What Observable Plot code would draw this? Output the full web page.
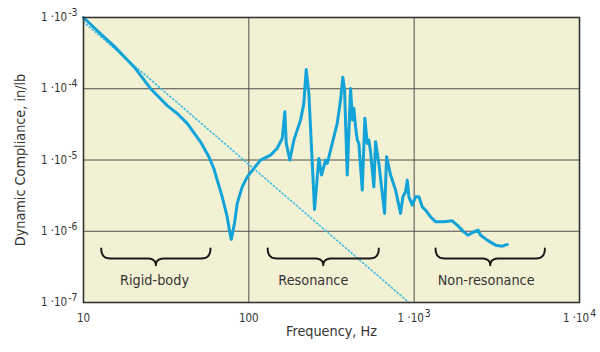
<!DOCTYPE html>
<html><head><meta charset="utf-8">
<script src="https://cdn.jsdelivr.net/npm/d3@7"></script>
<script src="https://cdn.jsdelivr.net/npm/@observablehq/plot@0.6"></script>
<style>
html,body{margin:0;padding:0;background:#fff;}
#chart svg{display:block;}
</style></head><body><div id="chart"></div>
<script>
// ---- data ----
const freqHz = [10, 12.5, 15.25, 20.5, 25.4, 32.1, 36.9, 42.4, 51.0, 57.3, 61.4, 64.4, 69.0, 74.0, 76.5, 78.3, 81.9, 85.1, 91.2, 97.8, 107.2, 117.7,
  135.3, 148.5, 159.3, 165.1, 168.4, 177, 187.2, 205.5, 215.1, 222.4, 230.7, 249.7, 265.2, 275.3, 291.1, 298.1,
  342.5, 358.6, 370.3, 379.3, 393.8, 412.3, 424, 431.8, 442.1, 452.7, 462.9, 485.3, 503.2, 520.4, 532, 544.8,
  570.4, 584.1, 611.5, 662.2, 680.8, 719.8, 771.9, 827.5, 854.4, 887.2, 908.4, 929, 974, 1020, 1068, 1119,
  1172, 1257, 1347, 1512, 1700, 1822, 1998, 2113, 2297, 2429, 2522, 2768, 3108, 3412, 3658];
const compliance = [1.0e-3, 6.1e-4, 4.0e-4, 1.95e-4, 1.01e-4, 5.8e-5, 4.5e-5, 3.27e-5, 1.8e-5, 1.11e-5, 7.6e-6, 5.22e-6, 3.04e-6, 1.59e-6, 1.0e-6, 7.7e-7, 1.29e-6, 2.46e-6, 4.2e-6, 5.8e-6, 7.6e-6, 9.97e-6,
  1.17e-5, 1.46e-5, 2.01e-5, 4.75e-5, 1.71e-5, 1.0e-5, 1.9e-5, 3.63e-5, 6.24e-5, 1.87e-4, 8.6e-5, 2.02e-6, 1.05e-5, 6.14e-6, 9.97e-6, 8.96e-6,
  3.27e-5, 6.94e-5, 1.45e-4, 9.6e-5, 6.14e-6, 1.01e-4, 3.63e-5, 5.31e-5, 2.93e-5, 1.9e-5, 1.71e-5, 3.78e-6, 3.84e-5, 1.71e-5, 1.9e-5, 1.3e-5,
  4.2e-6, 1.8e-5, 8.96e-6, 1.78e-6, 1.11e-5, 6.14e-6, 3.78e-6, 1.78e-6, 3.04e-6, 3.58e-6, 5.22e-6, 3.04e-6, 2.33e-6, 3.04e-6, 3.04e-6, 2.2e-6,
  1.98e-6, 1.59e-6, 1.36e-6, 1.36e-6, 1.40e-6, 1.22e-6, 9.8e-7, 8.8e-7, 9.8e-7, 1.04e-6, 8.8e-7, 7.5e-7, 6.38e-7, 6.18e-7, 6.53e-7];
const massLineHz = [10, 930];
const massLineComp = [8.7e-4, 1e-7];
const xTicks = [10, 100, 1000, 10000];
const xTickLabels = ["10", "100", "1 ·10^3", "1 ·10^4"];
const yTicks = [1e-7, 1e-6, 1e-5, 1e-4, 1e-3];
const yTickLabels = ["1 ·10^-7", "1 ·10^-6", "1 ·10^-5", "1 ·10^-4", "1 ·10^-3"];
const gridX = [100, 1000];
const gridY = [1e-6, 1e-5, 1e-4];
const regionLabels = ["Rigid-body", "Resonance", "Non-resonance"];
const regionFromHz = [12.8, 130, 1347];
const regionToHz = [58.6, 611, 6176];
const regionLabelHz = [26.9, 245.6, 2723];

// ---- layout ----
const W = 600, H = 352, ML = 83, MR = 21, MT = 17, MB = 50;
const FONT = '"Liberation Sans Narrow", "Arial Narrow", "DejaVu Sans Condensed", "Roboto Condensed", sans-serif';
const braceTop = 5.73e-7, braceBar = 4.15e-7, braceTip = 3.34e-7, labelLevel = 2.06e-7;
const pxPerDecX = (W - ML - MR) / 3;
const curl = 9 / pxPerDecX;

const curve = freqHz.map((f, i) => ({f, c: compliance[i]}));
const massLine = massLineHz.map((f, i) => ({f, c: massLineComp[i]}));

function quad(p0, p1, p2, n) {
  const out = [];
  for (let i = 0; i <= n; i++) {
    const t = i / n, a = (1 - t) * (1 - t), b = 2 * (1 - t) * t, c = t * t;
    out.push([a * p0[0] + b * p1[0] + c * p2[0], a * p0[1] + b * p1[1] + c * p2[1]]);
  }
  return out;
}
const braces = [];
regionLabels.forEach((name, i) => {
  const L = Math.log10(regionFromHz[i]), R = Math.log10(regionToHz[i]), C = (L + R) / 2;
  const T = Math.log10(braceTop), B = Math.log10(braceBar), P = Math.log10(braceTip);
  const pts = [
    ...quad([L, T], [L, B], [L + curl, B], 10),
    ...quad([C - curl, B], [C, B], [C, P], 10),
    ...quad([C, P], [C, B], [C + curl, B], 10),
    ...quad([R - curl, B], [R, B], [R, T], 10)
  ];
  pts.forEach(p => braces.push({name, f: 10 ** p[0], c: 10 ** p[1]}));
});
const regionText = regionLabels.map((name, i) => ({name, f: regionLabelHz[i]}));

const chart = Plot.plot({
  width: W, height: H,
  marginLeft: ML, marginRight: MR, marginTop: MT, marginBottom: MB,
  style: {background: "#ffffff", fontFamily: FONT, fontSize: "11.5px", color: "#333"},
  x: {type: "log", domain: [10, 1e4], ticks: xTicks, tickFormat: d => xTickLabels[xTicks.indexOf(d)], tickSize: 0, tickPadding: 11, label: null},
  y: {type: "log", domain: [1e-7, 1e-3], ticks: yTicks, tickFormat: d => yTickLabels[yTicks.indexOf(d)], tickSize: 0, tickPadding: 6, label: null},
  marks: [
    Plot.frame({fill: "#f3f1d3"}),
    Plot.ruleX(gridX, {stroke: "#4d4d4d", strokeWidth: 1}),
    Plot.ruleY(gridY, {stroke: "#4d4d4d", strokeWidth: 1}),
    Plot.line(massLine, {x: "f", y: "c", stroke: "#3dbde2", strokeWidth: 1.6, strokeDasharray: "1.2,2.6"}),
    Plot.line(curve, {x: "f", y: "c", stroke: "#12a3d9", strokeWidth: 3, strokeLinejoin: "round"}),
    Plot.line(braces, {x: "f", y: "c", z: "name", stroke: "#1a1a1a", strokeWidth: 2}),
    Plot.text(regionText, {x: "f", y: () => labelLevel, text: "name", fontSize: 14.3, fill: "#333"}),
    Plot.text(["Frequency, Hz"], {frameAnchor: "bottom", dy: 33, fontSize: 14.3, fill: "#333"}),
    Plot.text(["Dynamic Compliance, in/lb"], {frameAnchor: "left", textAnchor: "middle", rotate: -90, dx: -63, fontSize: 14.3, fill: "#333"}),
    Plot.frame({stroke: "#333", strokeWidth: 1.6})
  ]
});

chart.querySelectorAll("text").forEach(t => {
  const s = t.textContent;
  if (!s.includes("^")) return;
  const [b, e] = s.split("^");
  t.textContent = b;
  const sp = document.createElementNS("http://www.w3.org/2000/svg", "tspan");
  sp.setAttribute("dy", "-0.5em");
  sp.setAttribute("dx", "1");
  sp.setAttribute("font-size", "0.9em");
  sp.textContent = e;
  t.appendChild(sp);
});
document.getElementById("chart").appendChild(chart);
</script>
</body></html>
